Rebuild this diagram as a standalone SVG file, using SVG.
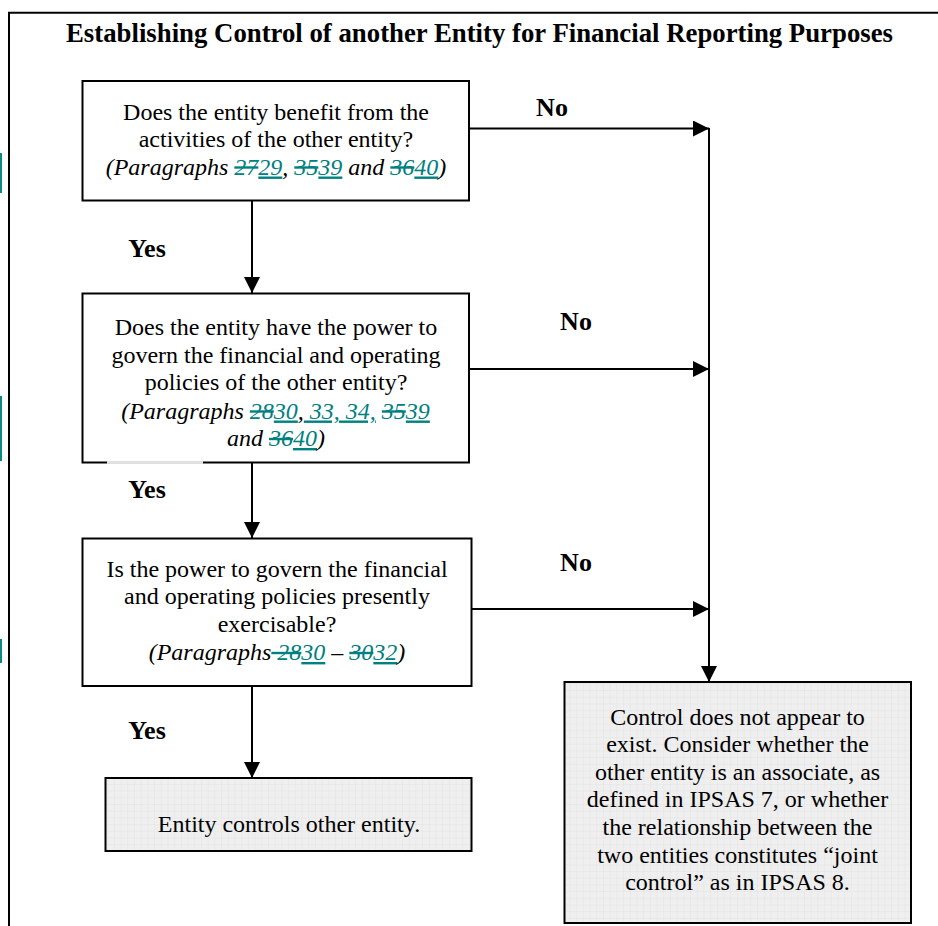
<svg xmlns="http://www.w3.org/2000/svg" width="938" height="926" viewBox="0 0 938 926">
<style>
  .box { fill: #ffffff; stroke: #000000; stroke-width: 2; }
  .gbox { fill: url(#grid); stroke: #000000; stroke-width: 2; }
  .t { font-family: "Liberation Serif", "Times New Roman", serif; font-size: 24px; fill: #000000; text-anchor: middle; }
  .it { font-style: italic; }
  .lbl { font-family: "Liberation Serif", "Times New Roman", serif; font-size: 26px; font-weight: bold; fill: #000000; text-anchor: middle; }
  .title { font-family: "Liberation Serif", "Times New Roman", serif; font-size: 26.5px; font-weight: bold; fill: #000000; text-anchor: middle; }
  .del { fill: #008080; text-decoration: line-through; }
  .ins { fill: #008080; text-decoration: underline; }
  .con { fill: none; stroke: #000000; stroke-width: 2; }
  .frame { fill: none; stroke: #000000; stroke-width: 2; }
  .mark { fill: #0a8a80; }
</style>
<defs>
  <pattern id="grid" width="6.7" height="6.7" patternUnits="userSpaceOnUse">
    <rect width="6.7" height="6.7" fill="#efefef"/>
    <path d="M 6.7 0 L 0 0 0 6.7" fill="none" stroke="#dcdcdc" stroke-width="0.6"/>
  </pattern>
  <marker id="arr" markerUnits="userSpaceOnUse" markerWidth="16" markerHeight="16" viewBox="0 0 16 16" refX="16" refY="8" orient="auto">
    <path d="M0,0 L16,8 L0,16 Z" fill="#000000"/>
  </marker>
</defs>
<rect width="938" height="926" fill="#ffffff"/>

<g id="frame">
  <line class="frame" x1="8" y1="12.7" x2="938" y2="12.7"/>
  <line class="frame" x1="9" y1="12" x2="9" y2="926"/>
  <rect class="mark" x="0" y="153" width="2" height="40"/>
  <rect class="mark" x="0" y="396" width="2" height="65"/>
  <rect class="mark" x="0" y="639" width="2" height="24"/>
</g>

<g id="title">
  <text class="title" x="479.5" y="42" textLength="827" lengthAdjust="spacingAndGlyphs">Establishing Control of another Entity for Financial Reporting Purposes</text>
</g>

<g id="connectors">
  <line class="con" x1="469" y1="128.5" x2="709" y2="128.5" marker-end="url(#arr)"/>
  <line class="con" x1="469" y1="369" x2="709" y2="369" marker-end="url(#arr)"/>
  <line class="con" x1="471" y1="609" x2="709" y2="609" marker-end="url(#arr)"/>
  <line class="con" x1="709" y1="128" x2="709" y2="682" marker-end="url(#arr)"/>
  <line class="con" x1="252" y1="201" x2="252" y2="293" marker-end="url(#arr)"/>
  <line class="con" x1="252" y1="463" x2="252" y2="538" marker-end="url(#arr)"/>
  <line class="con" x1="252" y1="686" x2="252" y2="778" marker-end="url(#arr)"/>
  <text class="lbl" x="552" y="116">No</text>
  <text class="lbl" x="576" y="330">No</text>
  <text class="lbl" x="576" y="571">No</text>
  <text class="lbl" x="147" y="257">Yes</text>
  <text class="lbl" x="147" y="498">Yes</text>
  <text class="lbl" x="147" y="739">Yes</text>
</g>

<g id="q1">
  <rect class="box" x="82.5" y="81" width="386.5" height="119.5"/>
  <text class="t" x="276" y="119.5">Does the entity benefit from the</text>
  <text class="t" x="276" y="147">activities of the other entity?</text>
  <text class="t it" x="276" y="174.5">(Paragraphs <tspan class="del">27</tspan><tspan class="ins">29</tspan>, <tspan class="del">35</tspan><tspan class="ins">39</tspan> and <tspan class="del">36</tspan><tspan class="ins">40</tspan>)</text>
</g>

<g id="q2">
  <rect class="box" x="82.5" y="293.5" width="386.5" height="169"/>
  <line x1="107" y1="462.5" x2="203" y2="462.5" stroke="#ffffff" stroke-width="2.6"/>
  <line x1="107" y1="462.5" x2="203" y2="462.5" stroke="#d0d0d0" stroke-width="0.6"/>
  <text class="t" x="276" y="335">Does the entity have the power to</text>
  <text class="t" x="276" y="362.7">govern the financial and operating</text>
  <text class="t" x="276" y="390.4">policies of the other entity?</text>
  <text class="t it" x="275.5" y="418.5">(Paragraphs <tspan class="del">28</tspan><tspan class="ins">30</tspan>,<tspan class="ins"> 33, 34,</tspan> <tspan class="del">35</tspan><tspan class="ins">39</tspan></text>
  <text class="t it" x="276" y="446">and <tspan class="del">36</tspan><tspan class="ins">40</tspan>)</text>
</g>

<g id="q3">
  <rect class="box" x="82.5" y="538.5" width="389" height="147.5"/>
  <text class="t" x="277" y="576.7">Is the power to govern the financial</text>
  <text class="t" x="277" y="604.2">and operating policies presently</text>
  <text class="t" x="277" y="631.7">exercisable?</text>
  <text class="t it" x="277" y="660">(Paragraphs<tspan class="del"> 28</tspan><tspan class="ins">30</tspan> – <tspan class="del">30</tspan><tspan class="ins">32</tspan>)</text>
</g>

<g id="yes-result">
  <rect class="gbox" x="105.5" y="778" width="366" height="73"/>
  <text class="t" x="289" y="831.5">Entity controls other entity.</text>
</g>

<g id="no-result">
  <rect class="gbox" x="564.5" y="682" width="346.5" height="241"/>
  <text class="t" x="737.5" y="724.5">Control does not appear to</text>
  <text class="t" x="737.5" y="752.1">exist. Consider whether the</text>
  <text class="t" x="737.5" y="779.7">other entity is an associate, as</text>
  <text class="t" x="737.5" y="807.3">defined in IPSAS 7, or whether</text>
  <text class="t" x="737.5" y="834.9">the relationship between the</text>
  <text class="t" x="737.5" y="862.5">two entities constitutes “joint</text>
  <text class="t" x="737.5" y="890.1">control” as in IPSAS 8.</text>
</g>
</svg>
